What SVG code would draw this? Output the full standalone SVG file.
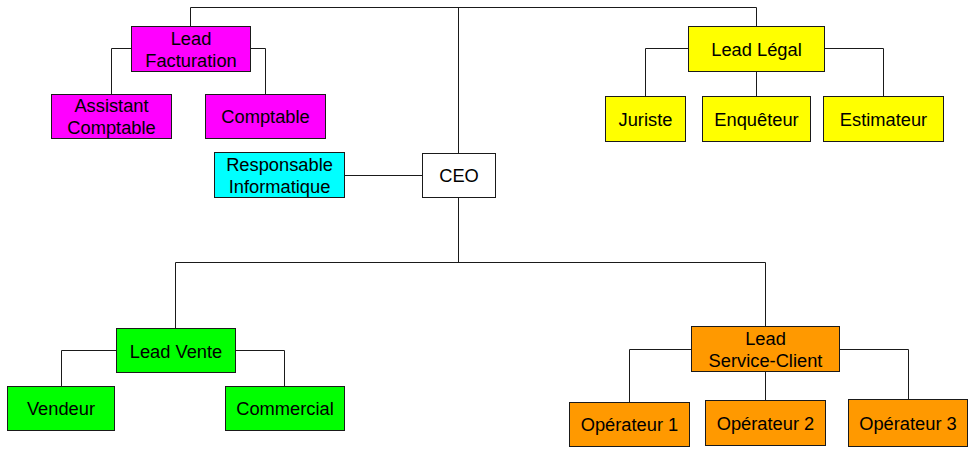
<svg xmlns="http://www.w3.org/2000/svg" width="972" height="451" viewBox="0 0 972 451">
<style>
.n rect{stroke:#1a1a1a;stroke-width:1}
text{font-family:"Liberation Sans",Arial,sans-serif;font-size:18.3px;fill:#000;text-anchor:middle}
.c path{fill:none;stroke:#1a1a1a;stroke-width:1}
.m{fill:#ff00ff}.y{fill:#ffff00}.cy{fill:#00ffff}.g{fill:#00ff00}.o{fill:#ff9900}.w{fill:#ffffff}
</style>
<rect width="972" height="451" fill="#ffffff"/>
<g class="c">
<path d="M190.5 26.5V7.5H756.5V26.5"/>
<path d="M458.5 7.5V153.5"/>
<path d="M131.5 48.5H111.5V94.5"/>
<path d="M250.5 48.5H265.5V94.5"/>
<path d="M688.5 48.5H645.5V96.5"/>
<path d="M756.5 71.5V96.5"/>
<path d="M824.5 48.5H883.5V96.5"/>
<path d="M344.5 175.5H422.5"/>
<path d="M458.5 197.5V262.5"/>
<path d="M175.5 328.5V262.5H765.5V326.5"/>
<path d="M116.5 350.5H61.5V386.5"/>
<path d="M235.5 350.5H284.5V386.5"/>
<path d="M691.5 349.5H629.5V402.5"/>
<path d="M765.5 371.5V400.5"/>
<path d="M839.5 349.5H908.5V399.5"/>
</g>
<g class="n">
<g id="ceo"><rect class="w" x="422.5" y="153.5" width="73" height="44"/><text x="459" y="182">CEO</text></g>
<g id="lead-facturation"><rect class="m" x="131.5" y="26.5" width="119" height="45"/><text x="191" y="44.5">Lead</text><text x="191" y="66.5">Facturation</text></g>
<g id="assistant-comptable"><rect class="m" x="51.5" y="94.5" width="120" height="44"/><text x="111.5" y="112">Assistant</text><text x="111.5" y="134">Comptable</text></g>
<g id="comptable"><rect class="m" x="205.5" y="94.5" width="120" height="44"/><text x="265.5" y="123">Comptable</text></g>
<g id="lead-legal"><rect class="y" x="688.5" y="26.5" width="136" height="45"/><text x="756.5" y="55.5">Lead Légal</text></g>
<g id="juriste"><rect class="y" x="605.5" y="96.5" width="80" height="45"/><text x="645.5" y="125.5">Juriste</text></g>
<g id="enqueteur"><rect class="y" x="702.5" y="96.5" width="108" height="45"/><text x="756.5" y="125.5">Enquêteur</text></g>
<g id="estimateur"><rect class="y" x="823.5" y="96.5" width="120" height="45"/><text x="883.5" y="125.5">Estimateur</text></g>
<g id="responsable-informatique"><rect class="cy" x="214.5" y="152.5" width="130" height="45"/><text x="279.5" y="171">Responsable</text><text x="279.5" y="193">Informatique</text></g>
<g id="lead-vente"><rect class="g" x="116.5" y="328.5" width="119" height="44"/><text x="176" y="357.5">Lead Vente</text></g>
<g id="vendeur"><rect class="g" x="7.5" y="386.5" width="107" height="44"/><text x="61" y="415">Vendeur</text></g>
<g id="commercial"><rect class="g" x="225.5" y="386.5" width="119" height="44"/><text x="285" y="415">Commercial</text></g>
<g id="lead-service-client"><rect class="o" x="691.5" y="326.5" width="148" height="45"/><text x="765.5" y="345">Lead</text><text x="765.5" y="367">Service-Client</text></g>
<g id="operateur-1"><rect class="o" x="569.5" y="402.5" width="120" height="44"/><text x="629.5" y="431">Opérateur 1</text></g>
<g id="operateur-2"><rect class="o" x="705.5" y="400.5" width="120" height="45"/><text x="765.5" y="429.5">Opérateur 2</text></g>
<g id="operateur-3"><rect class="o" x="848.5" y="399.5" width="119" height="47"/><text x="908" y="429.5">Opérateur 3</text></g>
</g>
</svg>
